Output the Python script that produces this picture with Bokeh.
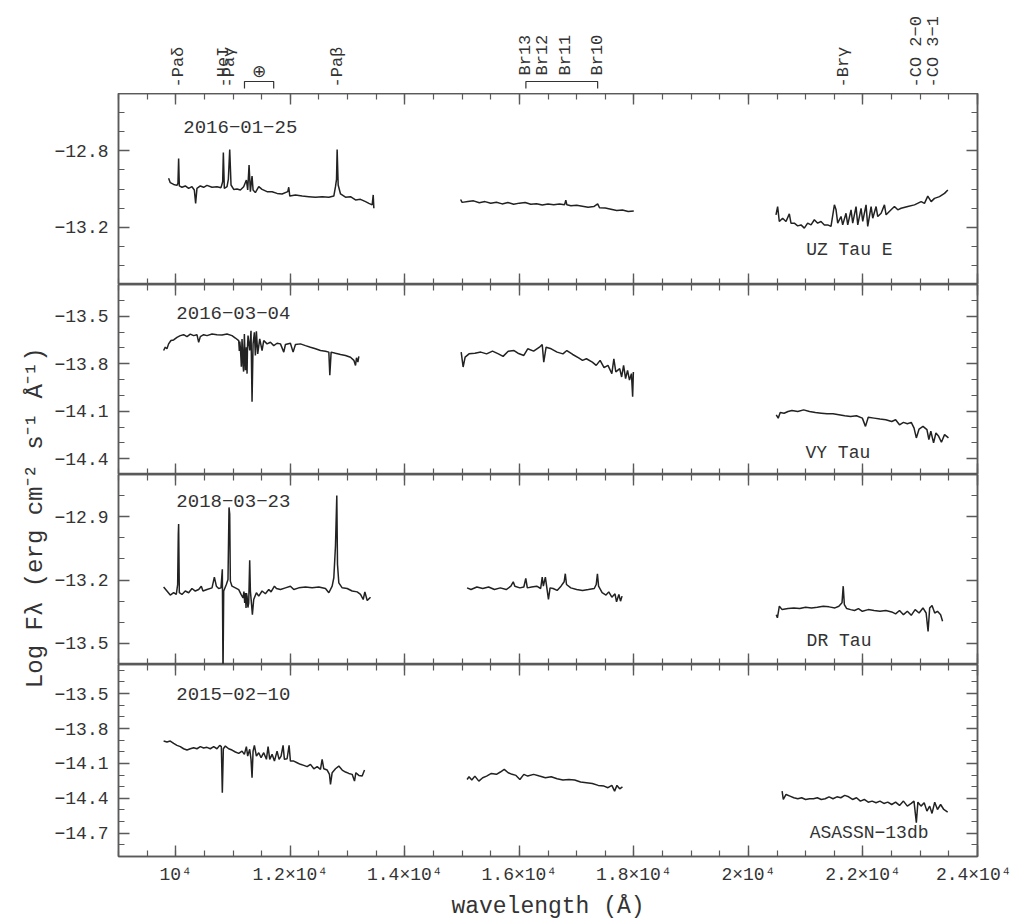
import math
from bokeh.plotting import figure
from bokeh.layouts import column, row
from bokeh.models import Range1d, FixedTicker, LinearAxis, CustomJSTickFormatter
from bokeh.core.properties import value
from bokeh.embed import file_html
from bokeh.resources import INLINE

# ---------------------------------------------------------------- data
x_major = [10000, 12000, 14000, 16000, 18000, 20000, 22000, 24000]
x_minor = list(range(9000, 24001, 500))

dash_labels = ["-Pa\u03b4", "-HeI", "-Pa\u03b3", "-Pa\u03b2", "-Br\u03b3", "-CO 2\u22120", "-CO 3\u22121"]
dash_wl = [10049, 10830, 10938, 12818, 21655, 22935, 23227]
br_labels = ["Br13", "Br12", "Br11", "Br10"]
br_wl = [16114, 16412, 16811, 17367]
telluric_wl = [11200, 11710]

# UZ Tau E, 2016-01-25
uz_j = [(9875, -12.944), (9904, -12.967), (9963, -12.976), (10021, -12.981), (10038, -12.971),
        (10050, -12.840), (10062, -12.984), (10108, -12.991), (10166, -12.984), (10225, -12.997),
        (10283, -12.988), (10324, -13.005), (10347, -13.075), (10370, -12.997), (10429, -12.984),
        (10487, -12.991), (10545, -12.981), (10633, -12.991), (10720, -12.988), (10790, -12.993),
        (10819, -12.962), (10831, -12.809), (10848, -12.997), (10895, -12.988), (10918, -12.950),
        (10942, -12.793), (10965, -12.979), (11012, -13.002), (11070, -13.000), (11128, -13.005),
        (11186, -12.988), (11233, -12.953), (11256, -13.005), (11280, -12.875), (11303, -13.014),
        (11332, -12.932), (11350, -13.005), (11390, -13.019), (11449, -12.988), (11507, -13.002),
        (11594, -13.014), (11682, -13.014), (11769, -13.023), (11856, -13.026), (11956, -13.014),
        (11973, -12.991), (11991, -13.037), (12090, -13.031), (12207, -13.037), (12323, -13.040),
        (12440, -13.043), (12556, -13.040), (12673, -13.043), (12760, -13.037), (12789, -12.988),
        (12807, -12.950), (12818, -12.793), (12836, -12.979), (12877, -13.026), (12964, -13.043),
        (13051, -13.040), (13139, -13.057), (13226, -13.054), (13314, -13.066), (13372, -13.075),
        (13430, -13.083), (13448, -13.031), (13459, -13.101)]
uz_h = [(14974, -13.055), (15000, -13.070), (15100, -13.066), (15200, -13.062), (15300, -13.072),
        (15400, -13.066), (15500, -13.075), (15600, -13.069), (15700, -13.078), (15800, -13.071),
        (15900, -13.080), (16000, -13.074), (16100, -13.071), (16200, -13.080), (16300, -13.077),
        (16400, -13.084), (16500, -13.079), (16600, -13.083), (16700, -13.078), (16790, -13.082),
        (16811, -13.058), (16830, -13.083), (16900, -13.088), (17000, -13.085), (17100, -13.090),
        (17200, -13.095), (17300, -13.092), (17367, -13.078), (17400, -13.098), (17500, -13.100),
        (17600, -13.106), (17700, -13.112), (17800, -13.110), (17900, -13.118), (17998, -13.115)]
uz_k = [(20481, -13.135), (20510, -13.092), (20539, -13.170), (20597, -13.153), (20656, -13.170),
        (20714, -13.130), (20743, -13.179), (20801, -13.179), (20860, -13.193), (20918, -13.188),
        (20976, -13.205), (21034, -13.179), (21093, -13.188), (21151, -13.161), (21209, -13.179),
        (21267, -13.170), (21326, -13.188), (21384, -13.188), (21442, -13.196), (21501, -13.083),
        (21530, -13.109), (21559, -13.179), (21617, -13.144), (21646, -13.188), (21704, -13.127),
        (21734, -13.188), (21792, -13.109), (21821, -13.179), (21879, -13.092), (21909, -13.188),
        (21967, -13.101), (21996, -13.170), (22054, -13.083), (22083, -13.196), (22142, -13.092),
        (22171, -13.153), (22229, -13.092), (22258, -13.144), (22317, -13.127), (22375, -13.083),
        (22404, -13.135), (22491, -13.109), (22550, -13.092), (22608, -13.109), (22666, -13.101),
        (22783, -13.092), (22899, -13.083), (23016, -13.066), (23074, -13.075), (23132, -13.037),
        (23191, -13.066), (23249, -13.049), (23336, -13.040), (23424, -13.023), (23482, -13.005)]

# VY Tau, 2016-03-04
vy_j = [(9788, -13.717), (9817, -13.696), (9846, -13.706), (9875, -13.675), (9916, -13.654),
        (9963, -13.650), (10021, -13.634), (10079, -13.623), (10137, -13.617), (10196, -13.629),
        (10254, -13.613), (10312, -13.623), (10370, -13.617), (10400, -13.665), (10429, -13.629),
        (10487, -13.617), (10545, -13.623), (10633, -13.613), (10720, -13.617), (10808, -13.619),
        (10895, -13.613), (10982, -13.623), (11041, -13.638), (11099, -13.654), (11110, -13.720),
        (11118, -13.660), (11128, -13.696), (11140, -13.779), (11145, -13.820), (11157, -13.644),
        (11165, -13.700), (11175, -13.811), (11185, -13.850), (11198, -13.613), (11205, -13.700),
        (11216, -13.842), (11225, -13.800), (11233, -13.696), (11245, -13.863), (11252, -13.700),
        (11262, -13.623), (11291, -13.717), (11314, -13.592), (11332, -14.040), (11350, -13.675),
        (11373, -13.602), (11390, -13.748), (11408, -13.596), (11431, -13.738), (11466, -13.644),
        (11507, -13.717), (11536, -13.654), (11594, -13.675), (11653, -13.665), (11711, -13.686),
        (11769, -13.671), (11828, -13.675), (11886, -13.727), (11915, -13.679), (12002, -13.671),
        (12049, -13.727), (12090, -13.679), (12177, -13.675), (12265, -13.686), (12352, -13.696),
        (12440, -13.706), (12527, -13.717), (12614, -13.721), (12673, -13.727), (12690, -13.873),
        (12713, -13.727), (12789, -13.734), (12877, -13.742), (12964, -13.748), (13051, -13.759),
        (13110, -13.779), (13139, -13.811), (13156, -13.763), (13180, -13.790), (13197, -13.754)]
vy_h = [(14984, -13.727), (15018, -13.821), (15053, -13.759), (15121, -13.738), (15223, -13.734),
        (15326, -13.727), (15428, -13.738), (15531, -13.721), (15634, -13.738), (15716, -13.754),
        (15805, -13.721), (15907, -13.717), (15975, -13.734), (16078, -13.748), (16146, -13.706),
        (16249, -13.721), (16351, -13.696), (16399, -13.679), (16426, -13.790), (16467, -13.696),
        (16556, -13.706), (16659, -13.727), (16761, -13.738), (16829, -13.717), (16932, -13.742),
        (17035, -13.763), (17103, -13.779), (17171, -13.769), (17274, -13.790), (17342, -13.811),
        (17410, -13.779), (17479, -13.825), (17547, -13.811), (17615, -13.863), (17650, -13.769),
        (17684, -13.852), (17752, -13.831), (17786, -13.884), (17820, -13.811), (17855, -13.894),
        (17889, -13.842), (17923, -13.904), (17957, -13.863), (17978, -14.009), (17991, -13.852)]
vy_k = [(20486, -14.123), (20520, -14.144), (20555, -14.109), (20623, -14.113), (20691, -14.102),
        (20759, -14.096), (20862, -14.102), (20964, -14.092), (21067, -14.102), (21169, -14.109),
        (21272, -14.113), (21374, -14.117), (21477, -14.117), (21579, -14.123), (21682, -14.129),
        (21784, -14.134), (21887, -14.129), (21989, -14.144), (22044, -14.196), (22092, -14.138),
        (22194, -14.144), (22297, -14.150), (22399, -14.154), (22502, -14.165), (22570, -14.154),
        (22638, -14.186), (22707, -14.171), (22775, -14.179), (22843, -14.171), (22891, -14.206),
        (22932, -14.269), (22980, -14.213), (23048, -14.196), (23117, -14.217), (23151, -14.279),
        (23185, -14.227), (23233, -14.300), (23274, -14.238), (23322, -14.259), (23370, -14.296),
        (23425, -14.248), (23493, -14.269)]

# DR Tau, 2018-03-23
dr_j = [(9788, -13.233), (9846, -13.252), (9904, -13.271), (9963, -13.260), (10009, -13.268),
        (10033, -13.221), (10044, -12.983), (10050, -12.935), (10062, -13.260), (10108, -13.268),
        (10166, -13.252), (10225, -13.260), (10283, -13.240), (10341, -13.252), (10400, -13.245),
        (10446, -13.229), (10475, -13.252), (10545, -13.245), (10633, -13.237), (10674, -13.186),
        (10709, -13.229), (10749, -13.240), (10790, -13.237), (10813, -13.149), (10825, -13.650),
        (10837, -13.252), (10883, -13.221), (10912, -13.197), (10930, -12.856), (10942, -12.887),
        (10953, -13.205), (10982, -13.229), (11041, -13.237), (11099, -13.245), (11140, -13.268),
        (11175, -13.284), (11190, -13.255), (11204, -13.308), (11215, -13.262), (11227, -13.332),
        (11235, -13.262), (11245, -13.276), (11260, -13.330), (11274, -13.308), (11291, -13.106),
        (11303, -13.252), (11321, -13.308), (11338, -13.364), (11361, -13.292), (11408, -13.260),
        (11449, -13.276), (11507, -13.252), (11565, -13.265), (11624, -13.245), (11664, -13.256),
        (11723, -13.229), (11758, -13.240), (11828, -13.245), (11915, -13.237), (12002, -13.229),
        (12061, -13.245), (12148, -13.237), (12265, -13.233), (12381, -13.237), (12498, -13.233),
        (12614, -13.240), (12673, -13.260), (12731, -13.229), (12760, -13.189), (12789, -13.038),
        (12812, -12.800), (12824, -13.125), (12847, -13.213), (12906, -13.237), (12993, -13.240),
        (13080, -13.252), (13168, -13.256), (13226, -13.268), (13273, -13.292), (13302, -13.256),
        (13343, -13.297), (13401, -13.281)]
dr_h = [(15087, -13.237), (15155, -13.245), (15258, -13.233), (15360, -13.240), (15463, -13.233),
        (15565, -13.245), (15668, -13.237), (15770, -13.245), (15852, -13.229), (15893, -13.208),
        (15921, -13.229), (16009, -13.237), (16078, -13.233), (16112, -13.192), (16139, -13.237),
        (16214, -13.233), (16303, -13.229), (16372, -13.240), (16399, -13.186), (16419, -13.229),
        (16454, -13.186), (16488, -13.252), (16508, -13.292), (16536, -13.237), (16590, -13.240),
        (16659, -13.249), (16727, -13.229), (16782, -13.208), (16802, -13.170), (16823, -13.221),
        (16898, -13.237), (17000, -13.245), (17103, -13.249), (17205, -13.245), (17308, -13.240),
        (17342, -13.221), (17363, -13.170), (17383, -13.229), (17445, -13.260), (17513, -13.271),
        (17561, -13.256), (17615, -13.281), (17670, -13.265), (17697, -13.303), (17738, -13.268),
        (17766, -13.300), (17793, -13.276)]
dr_k = [(20486, -13.364), (20506, -13.379), (20540, -13.324), (20588, -13.340), (20691, -13.335),
        (20793, -13.332), (20896, -13.335), (20998, -13.329), (21101, -13.332), (21203, -13.329),
        (21306, -13.324), (21408, -13.327), (21511, -13.332), (21579, -13.324), (21634, -13.308),
        (21655, -13.229), (21675, -13.316), (21716, -13.335), (21784, -13.340), (21853, -13.344),
        (21921, -13.335), (21989, -13.348), (22092, -13.340), (22194, -13.344), (22297, -13.348),
        (22399, -13.344), (22502, -13.351), (22570, -13.360), (22638, -13.344), (22707, -13.364),
        (22775, -13.348), (22843, -13.367), (22911, -13.340), (22980, -13.356), (23048, -13.332),
        (23103, -13.356), (23137, -13.443), (23165, -13.332), (23206, -13.321), (23253, -13.356),
        (23301, -13.348), (23356, -13.364), (23390, -13.395)]

# ASASSN-13db, 2015-02-10
as_j = [(9788, -13.908), (9846, -13.916), (9904, -13.908), (9963, -13.928), (10021, -13.945),
        (10079, -13.956), (10137, -13.974), (10196, -13.985), (10254, -13.974), (10312, -13.965),
        (10370, -13.974), (10429, -13.956), (10487, -13.968), (10545, -13.962), (10603, -13.974),
        (10662, -13.956), (10720, -13.974), (10767, -13.945), (10796, -13.956), (10813, -14.352),
        (10831, -13.974), (10866, -13.951), (10924, -13.974), (10982, -13.985), (11041, -14.002),
        (11099, -14.014), (11157, -13.994), (11198, -14.022), (11233, -13.956), (11256, -14.037),
        (11291, -13.979), (11314, -14.065), (11332, -14.223), (11350, -13.994), (11373, -13.945),
        (11408, -14.037), (11449, -14.008), (11490, -14.051), (11536, -14.008), (11583, -14.065),
        (11612, -13.956), (11641, -14.065), (11682, -14.022), (11723, -14.080), (11769, -13.994),
        (11804, -14.065), (11839, -14.037), (11874, -13.945), (11897, -14.065), (11944, -14.060),
        (11979, -13.945), (12002, -14.080), (12061, -14.080), (12119, -14.094), (12177, -14.108),
        (12236, -14.117), (12294, -14.128), (12352, -14.108), (12411, -14.146), (12469, -14.128),
        (12527, -14.151), (12556, -14.065), (12585, -14.146), (12644, -14.157), (12684, -14.194),
        (12702, -14.281), (12731, -14.180), (12789, -14.146), (12847, -14.123), (12906, -14.157),
        (12964, -14.174), (13022, -14.186), (13080, -14.194), (13121, -14.252), (13145, -14.180),
        (13197, -14.203), (13255, -14.209), (13296, -14.157)]
as_h = [(15087, -14.238), (15121, -14.215), (15169, -14.243), (15223, -14.209), (15292, -14.252),
        (15360, -14.223), (15428, -14.209), (15511, -14.186), (15599, -14.194), (15668, -14.174),
        (15736, -14.151), (15805, -14.180), (15873, -14.194), (15941, -14.203), (16009, -14.238),
        (16078, -14.194), (16146, -14.209), (16249, -14.194), (16351, -14.209), (16454, -14.223),
        (16556, -14.215), (16659, -14.232), (16761, -14.243), (16864, -14.238), (16966, -14.243),
        (17069, -14.260), (17171, -14.266), (17274, -14.272), (17377, -14.289), (17479, -14.295),
        (17547, -14.309), (17615, -14.289), (17663, -14.338), (17704, -14.289), (17752, -14.318),
        (17800, -14.301)]
as_k = [(20588, -14.338), (20609, -14.410), (20657, -14.367), (20725, -14.381), (20793, -14.395),
        (20862, -14.404), (20930, -14.395), (20998, -14.410), (21067, -14.404), (21135, -14.404),
        (21203, -14.395), (21272, -14.410), (21340, -14.404), (21408, -14.387), (21477, -14.404),
        (21545, -14.387), (21613, -14.395), (21682, -14.375), (21750, -14.387), (21818, -14.410),
        (21887, -14.395), (21955, -14.424), (22023, -14.410), (22092, -14.433), (22160, -14.424),
        (22228, -14.438), (22297, -14.424), (22365, -14.444), (22433, -14.433), (22502, -14.453),
        (22570, -14.433), (22638, -14.461), (22707, -14.424), (22775, -14.467), (22843, -14.444),
        (22891, -14.424), (22932, -14.610), (22959, -14.433), (23014, -14.467), (23069, -14.438),
        (23117, -14.510), (23165, -14.467), (23206, -14.530), (23253, -14.433), (23301, -14.496),
        (23356, -14.453), (23411, -14.496), (23479, -14.519)]

star_names = ["UZ Tau E", "VY Tau", "DR Tau", "ASASSN\u221213db"]
dates = ["2016\u221201\u221225", "2016\u221203\u221204", "2018\u221203\u221223", "2015\u221202\u221210"]
y_ranges = [(-13.5, -12.5), (-14.5, -13.3), (-13.6, -12.7), (-14.9, -13.25)]
y_majors = [[-13.2, -12.8], [-14.4, -14.1, -13.8, -13.5], [-13.5, -13.2, -12.9],
            [-14.7, -14.4, -14.1, -13.8, -13.5]]
spectra = [[uz_j, uz_h, uz_k], [vy_j, vy_h, vy_k], [dr_j, dr_h, dr_k], [as_j, as_h, as_k]]

# ---------------------------------------------------------------- layout / style
FRAME = "#5a5a5a"
TXT = "#333333"
LINE = "#222222"
MONO = "Liberation Mono"
FW = 859
LW = 48
BL, BR = 70, 34
frame_heights = [191, 190, 190, 192]
date_pos = [(10131, -12.677), (10010, -13.478), (10010, -12.824), (10010, -13.50)]
name_pos = [(21762, -13.318), (21561, -14.367), (21582, -13.487), (22107, -14.702)]

xr = Range1d(9000, 24000)


def minor_list(lo, hi):
    a = int(math.ceil(lo * 10 - 1e-6))
    b = int(math.floor(hi * 10 + 1e-6))
    return [i / 10 for i in range(a, b + 1)]


def style_axis(ax, show_labels):
    ax.major_tick_in = 11
    ax.major_tick_out = 0
    ax.minor_tick_in = 6
    ax.minor_tick_out = 0
    ax.axis_line_color = FRAME
    ax.axis_line_width = 1.5
    ax.major_tick_line_color = FRAME
    ax.minor_tick_line_color = FRAME
    ax.major_tick_line_width = 1.4
    ax.minor_tick_line_width = 1.2
    if not show_labels:
        ax.major_label_text_color = None
        ax.major_label_standoff = 0
    else:
        ax.major_label_text_font = MONO
        ax.major_label_text_font_size = "18px"
        ax.major_label_text_color = TXT


def no_grid(p):
    for g in p.grid:
        g.visible = False


yfmt = CustomJSTickFormatter(code="""
    return (tick < 0 ? "\\u2212" : "") + Math.abs(tick).toFixed(1);
""")
xfmt = CustomJSTickFormatter(code="""
    const v = Math.round(tick / 1000) / 10;
    if (v == 1) return "10\\u2074";
    return v.toString() + "\\u00d710\\u2074";
""")

panels = []
for i in range(4):
    bottom = (i == 3)
    p = figure(frame_width=FW, frame_height=frame_heights[i], x_range=xr,
               y_range=Range1d(*y_ranges[i]), output_backend="svg", toolbar_location=None,
               x_axis_location=None, y_axis_location=None,
               min_border_left=BL, min_border_right=BR, min_border_top=0,
               min_border_bottom=0, background_fill_color="white",
               border_fill_color="white")
    no_grid(p)
    p.outline_line_color = FRAME
    p.outline_line_width = 1.5
    yt = FixedTicker(ticks=y_majors[i], minor_ticks=minor_list(*y_ranges[i]))
    xt = FixedTicker(ticks=x_major, minor_ticks=x_minor)
    left = LinearAxis(ticker=yt, formatter=yfmt)
    style_axis(left, True)
    left.major_label_standoff = 10
    right = LinearAxis(ticker=yt)
    style_axis(right, False)
    top = LinearAxis(ticker=xt)
    style_axis(top, False)
    below = LinearAxis(ticker=xt, formatter=xfmt)
    style_axis(below, bottom)
    if bottom:
        below.major_label_standoff = 8
        below.axis_label = "wavelength (\u00c5)"
        below.axis_label_text_font = MONO
        below.axis_label_text_font_size = "23px"
        below.axis_label_text_font_style = "normal"
        below.axis_label_text_color = TXT
        below.axis_label_standoff = 6
    p.add_layout(left, "left")
    p.add_layout(right, "right")
    p.add_layout(top, "above")
    p.add_layout(below, "below")
    for seg in spectra[i]:
        wl = [a for a, b in seg]
        fx = [b for a, b in seg]
        p.line(wl, fx, line_color=LINE, line_width=1.5)
    p.text(x=[date_pos[i][0]], y=[date_pos[i][1]], text=[dates[i]],
           text_font=value(MONO), text_font_size="19px", text_color=TXT,
           text_align="left", text_baseline="middle")
    p.text(x=[name_pos[i][0]], y=[name_pos[i][1]], text=[star_names[i]],
           text_font=value(MONO), text_font_size="18px", text_color=TXT,
           text_align="center", text_baseline="middle")
    panels.append(p)

# line identifications above the top panel
TOPH = 93
tp = figure(frame_width=FW, frame_height=TOPH, x_range=xr, y_range=Range1d(TOPH, 0),
            output_backend="svg", toolbar_location=None, x_axis_location=None,
            y_axis_location=None, min_border_left=BL, min_border_right=BR,
            min_border_top=0, min_border_bottom=0)
no_grid(tp)
tp.outline_line_color = None
tp.text(x=dash_wl, y=[87] * len(dash_wl), text=dash_labels, angle=math.pi / 2,
        text_font=value(MONO), text_font_size="17px", text_color=TXT,
        text_align="left", text_baseline="middle")
tp.text(x=br_wl, y=[75] * len(br_wl), text=br_labels, angle=math.pi / 2,
        text_font=value(MONO), text_font_size="17px", text_color=TXT,
        text_align="left", text_baseline="middle")
tp.text(x=[sum(telluric_wl) / 2], y=[70], text=["\u2295"], text_font=value("DejaVu Sans"),
        text_font_size="17px", text_color=TXT, text_align="center", text_baseline="middle")
for band in (telluric_wl, [br_wl[0], br_wl[-1]]):
    tp.multi_line(xs=[[band[0], band[0], band[1], band[1]]], ys=[[88, 81, 81, 88]],
                  line_color=TXT, line_width=1.2)

# y-axis title
LH = 912
lp = figure(width=LW, height=LH, x_range=Range1d(0, LW), y_range=Range1d(LH, 0),
            output_backend="svg", toolbar_location=None, x_axis_location=None,
            y_axis_location=None, min_border=0)
no_grid(lp)
lp.outline_line_color = None
lp.text(x=[35], y=[510], text=["Log F\u03bb  (erg cm\u207b\u00b2 s\u207b\u00b9 \u00c5\u207b\u00b9)"],
        angle=math.pi / 2, text_font=value(MONO), text_font_size="24px", text_color=TXT,
        text_align="center", text_baseline="middle")

layout = row(lp, column(tp, *panels, spacing=0), spacing=0)
open("out.html", "w").write(file_html(layout, INLINE))
